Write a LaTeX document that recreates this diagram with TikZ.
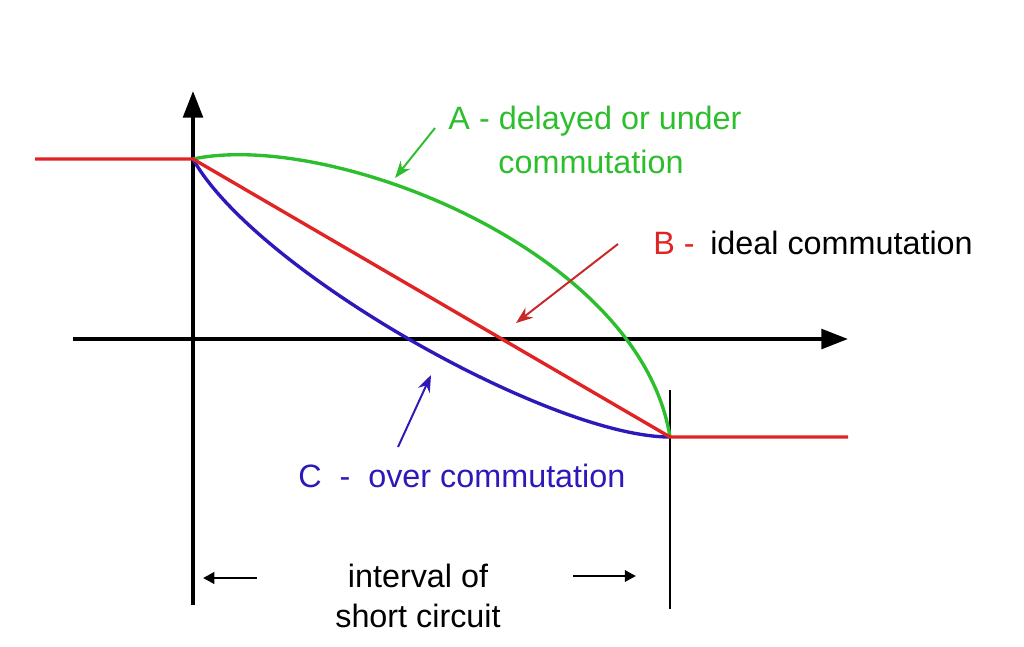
\documentclass[tikz,border=0pt]{standalone}
\usepackage{fontspec}
\setmainfont{Liberation Sans}
\usetikzlibrary{arrows.meta}
\definecolor{curveA}{RGB}{45,190,45}
\definecolor{curveB}{RGB}{225,35,35}
\definecolor{curveC}{RGB}{45,25,185}
\definecolor{arrowB}{RGB}{200,40,40}

\begin{document}
\begin{tikzpicture}
[x=0.025cm,y=-0.025cm,
  axisdecorate/.style={line width=2.6pt,-{Triangle[length=19pt,width=14pt]}},%
  curvedecorate/.style={line width=2.4pt},%
  notedecorate/.style={line width=1.4pt,-{Stealth[length=12pt,width=9pt]}},%
  intervaldecorate/.style={line width=2pt,-{Triangle[length=8pt,width=8pt]}},%
  labeldecorate/.style={font=\fontsize{23}{27}\selectfont,inner sep=0pt}]
\useasboundingbox (0,0) rectangle (1024,646);
%%
%% Points of the plot
\foreach \pointname/\x/\y in {
  xstart/73/339, xend/848/339, ybottom/193/605, ytop/193/91,
  left/35/159, start/193/159, finish/670/437, right/848/437,
  markt/670/390, markb/670/609}
{
  \coordinate (\pointname) at (\x,\y);
}
%% Points of the note arrows
\foreach \pointname/\x/\y in {
  tailA/435/128, headA/395/178, tailB/618/244, headB/516/323,
  tailC/398/447, headC/431/375, tailL/257/578, headL/203/578,
  tailR/573/576, headR/636/576}
{
  \coordinate (\pointname) at (\x,\y);
}
%%
%% Axes and end of the interval
\draw[axisdecorate] (xstart) -- (xend);
\draw[axisdecorate] (ybottom) -- (ytop);
\draw[line width=2pt] (markt) -- (markb);
%%
%% Commutation curves
\draw[curvedecorate,curveA] (start) .. controls (330,130) and (640,250) .. (finish);
\draw[curvedecorate,curveC] (start) .. controls (255,270) and (550,437) .. (finish);
\draw[curvedecorate,curveB] (left) -- (start) -- (finish) -- (right);
%%
%% Labels
\node (labelA) at (595,129) [labeldecorate,anchor=base,curveA] {A - delayed or under};
\node (labelAA) at (591,173) [labeldecorate,anchor=base,curveA] {commutation};
\node (labelB) at (653,254) [labeldecorate,anchor=base west,curveB] {B -};
\node (labelBB) at (710,254) [labeldecorate,anchor=base west] {ideal commutation};
\node (labelC) at (298,487) [labeldecorate,anchor=base west,curveC] {C \ - \ over commutation};
\node (interval) at (418,587) [labeldecorate,anchor=base] {interval of};
\node (circuit) at (418,627) [labeldecorate,anchor=base] {short circuit};
%%
%% Note arrows
\draw[notedecorate,curveA] (tailA) -- (headA);
\draw[notedecorate,arrowB] (tailB) -- (headB);
\draw[notedecorate,curveC] (tailC) -- (headC);
\path
\foreach \startnode/\endnode in {tailL/headL, tailR/headR} {
  (\startnode) edge[intervaldecorate] (\endnode)
};
\end{tikzpicture}
\end{document}
